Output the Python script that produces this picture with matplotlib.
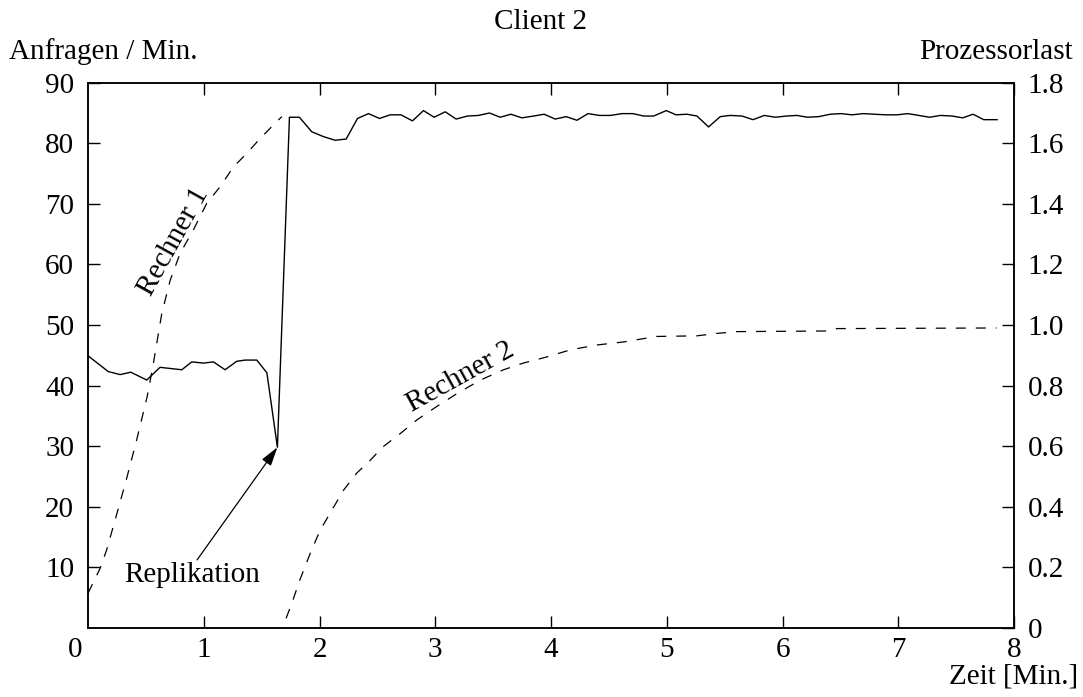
import matplotlib.pyplot as plt

plt.rcParams['font.family'] = ['Liberation Serif', 'DejaVu Serif']
plt.rcParams['font.size'] = 21

# Anfragen / Min. (Client 2)
t_req = [0.0, 0.175, 0.277, 0.369, 0.507, 0.622, 0.81, 0.896, 0.997, 1.083,
         1.184, 1.285, 1.357, 1.458, 1.545, 1.636, 1.74, 1.826, 1.933, 2.034,
         2.135, 2.23, 2.328, 2.423, 2.518, 2.61, 2.703, 2.803, 2.898, 2.99,
         3.086, 3.18, 3.278, 3.373, 3.468, 3.561, 3.653, 3.748, 3.849, 3.941,
         4.036, 4.131, 4.224, 4.319, 4.419, 4.512, 4.613, 4.708, 4.8, 4.886,
         4.996, 5.08, 5.175, 5.261, 5.361, 5.462, 5.549, 5.65, 5.745, 5.843,
         5.938, 6.033, 6.125, 6.217, 6.312, 6.413, 6.506, 6.601, 6.696, 6.794,
         6.889, 6.99, 7.081, 7.177, 7.271, 7.364, 7.465, 7.557, 7.646, 7.738,
         7.854]
req = [44.9, 42.3, 41.8, 42.2, 40.9, 43.0, 42.6, 43.9, 43.7, 43.9,
       42.6, 44.0, 44.2, 44.2, 42.1, 29.8, 84.3, 84.3, 81.9, 81.1,
       80.5, 80.7, 84.1, 84.9, 84.1, 84.7, 84.7, 83.7, 85.4, 84.3,
       85.2, 84.0, 84.5, 84.6, 85.0, 84.3, 84.8, 84.2, 84.5, 84.8,
       84.0, 84.4, 83.8, 84.9, 84.6, 84.6, 84.9, 84.9, 84.5, 84.5,
       85.4, 84.7, 84.8, 84.5, 82.7, 84.4, 84.6, 84.5, 83.9, 84.6,
       84.3, 84.5, 84.6, 84.3, 84.4, 84.8, 84.9, 84.7, 84.9, 84.8,
       84.7, 84.7, 84.9, 84.6, 84.3, 84.6, 84.5, 84.2, 84.8, 83.9,
       83.9]

# Prozessorlast Rechner 1
t_r1 = [0.0, 0.104, 0.16, 0.25, 0.33, 0.42, 0.51, 0.565, 0.637, 0.71,
        0.795, 0.91, 1.026, 1.14, 1.256, 1.37, 1.487, 1.60, 1.674]
load_r1 = [0.114, 0.196, 0.256, 0.378, 0.488, 0.62, 0.762, 0.874, 1.038, 1.148,
           1.236, 1.314, 1.402, 1.456, 1.522, 1.566, 1.616, 1.66, 1.688]

# Prozessorlast Rechner 2
t_r2 = [1.711, 1.76, 1.83, 1.92, 2.005, 2.106, 2.207, 2.32, 2.44, 2.55,
        2.70, 2.84, 3.01, 3.19, 3.39, 3.59, 3.76, 3.96, 4.17, 4.40,
        4.63, 4.91, 5.26, 5.43, 5.61, 6.38, 6.47, 7.85]
load_r2 = [0.031, 0.08, 0.158, 0.246, 0.322, 0.388, 0.454, 0.51, 0.554, 0.598,
           0.642, 0.686, 0.73, 0.774, 0.818, 0.852, 0.874, 0.894, 0.918, 0.934,
           0.944, 0.962, 0.964, 0.972, 0.978, 0.98, 0.988, 0.99]

fig = plt.figure(figsize=(10.83, 6.97), dpi=100)
ax = fig.add_axes([0.0813, 0.0994, 0.855, 0.7819])
ax2 = ax.twinx()

ax.plot(t_req, req, color='black', lw=1.0)
ax2.plot(t_r1, load_r1, color='black', lw=0.9, dashes=(8, 8))
ax2.plot(t_r2, load_r2, color='black', lw=0.9, dashes=(8, 8))

ax.set_xlim(0, 8)
ax.set_ylim(0, 90)
ax2.set_ylim(0, 1.8)

ax.set_xticks(range(1, 9))
ax.set_yticks(range(10, 100, 10))
ax2.set_yticks([0, 0.2, 0.4, 0.6, 0.8, 1.0, 1.2, 1.4, 1.6, 1.8])
ax2.set_yticklabels(['0', '0.2', '0.4', '0.6', '0.8', '1.0', '1.2', '1.4', '1.6', '1.8'])

ax.tick_params(direction='in', length=8.5, width=1.0, pad=10, top=True)
ax.tick_params(axis='x', pad=7)
ax2.tick_params(direction='in', length=8.5, width=1.0, pad=10)
for a in (ax, ax2):
    for s in a.spines.values():
        s.set_linewidth(1.1)

# Beschriftungen
i_min = req.index(min(req))
ax.annotate('', xy=(t_req[i_min], req[i_min]), xytext=(0.942, 11.2),
            arrowprops=dict(arrowstyle='-|>,head_length=0.55,head_width=0.16',
                            color='black', lw=0.9, shrinkA=0, shrinkB=0))
ax.text(0.903, 8.7, 'Replikation', ha='center', va='center')
ax.text(0.74, 63.8, 'Rechner 1', ha='center', va='center', rotation=61)
ax.text(3.215, 41.4, 'Rechner 2', ha='center', va='center', rotation=29)

fig.text(540 / 1083, 1 - 22 / 697, 'Client 2', ha='center', va='center')
fig.text(9 / 1083, 1 - 52 / 697, 'Anfragen / Min.', ha='left', va='center')
fig.text(1073 / 1083, 1 - 52 / 697, 'Prozessorlast', ha='right', va='center')
fig.text(1078 / 1083, 1 - 677 / 697, 'Zeit [Min.]', ha='right', va='center')
fig.text(75 / 1083, 1 - 650 / 697, '0', ha='center', va='center')

fig.savefig('out.png', dpi=100)
